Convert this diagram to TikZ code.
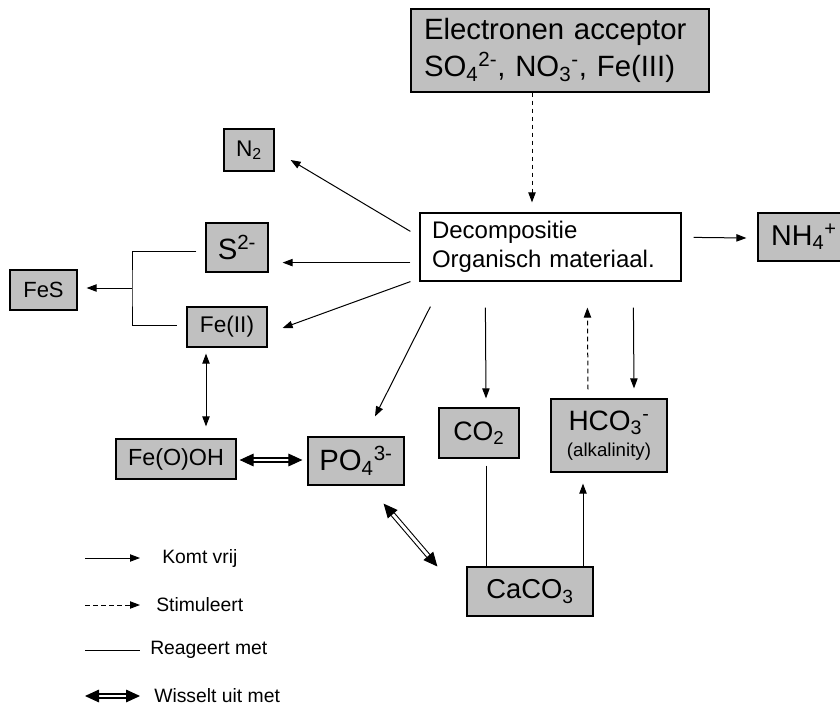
\documentclass[tikz,border=0pt]{standalone}
\usepackage{fontspec}
\setmainfont{Liberation Sans}
\usetikzlibrary{arrows.meta,calc}
\definecolor{boxgray}{HTML}{C0C0C0}
\newcommand{\dn}[1]{\textsubscript{#1}}
\newcommand{\up}[1]{\textsuperscript{#1}}
\tikzset{
  gbox/.style={draw, line width=0.9pt, fill=boxgray, inner sep=0pt, align=center},
  wbox/.style={draw, line width=0.9pt, fill=white, inner sep=0pt},
  rel/.style={line width=0.75pt, -{Triangle[length=7.5pt,width=5.5pt]}},
  stim/.style={rel, dash pattern=on 3.5pt off 2.5pt},
  react/.style={line width=0.75pt},
  both/.style={line width=0.75pt, {Triangle[length=7.5pt,width=5.5pt]}-{Triangle[length=7.5pt,width=5.5pt]}},
  xch/.style={double, line width=0.8pt, double distance=2.2pt, {Triangle[length=10.5pt,width=9.5pt]}-{Triangle[length=10.5pt,width=9.5pt]}},
  legtext/.style={anchor=west, inner sep=0pt, font=\fontsize{14.5}{17}\selectfont},
}
\begin{document}
\begin{tikzpicture}[x=0.75pt, y=-0.75pt]
\useasboundingbox (0,0) rectangle (840,707);

% boxes
\node[gbox, align=left, text width=204pt, inner xsep=9.75pt, minimum height=62.25pt,
      font=\fontsize{22}{27.5}\selectfont] (acc) at (560,50.5)
  {Electronen acceptor\\SO\dn{4}\up{2-}, NO\dn{3}\up{-}, Fe(III)};
\node[wbox, align=left, text width=177.75pt, inner xsep=9pt, minimum height=51pt,
      font=\fontsize{18}{21.5}\selectfont] (dec) at (550.5,247)
  {Decompositie\\Organisch materiaal.};
\node[gbox, minimum width=37.5pt, minimum height=31.5pt, font=\fontsize{17}{19}\selectfont] (n2) at (249,150) {N\dn{2}};
\node[gbox, minimum width=46.5pt, minimum height=36.75pt, font=\fontsize{22}{24}\selectfont] (s2) at (237,247.5) {S\up{2-}};
\node[gbox, minimum width=50.25pt, minimum height=30pt, font=\fontsize{16.5}{18}\selectfont] (fes) at (43.5,290) {FeS};
\node[gbox, minimum width=60pt, minimum height=30pt, font=\fontsize{17}{19}\selectfont] (fe2) at (227,327) {Fe(II)};
\node[gbox, minimum width=90pt, minimum height=30pt, font=\fontsize{17.5}{19}\selectfont] (feooh) at (176,459) {Fe(O)OH};
\node[gbox, minimum width=72pt, minimum height=36pt, font=\fontsize{22}{24}\selectfont] (po4) at (356,461) {PO\dn{4}\up{3-}};
\node[gbox, minimum width=60pt, minimum height=37.5pt, font=\fontsize{20}{22}\selectfont] (co2) at (479,433) {CO\dn{2}};
\node[gbox, minimum width=87pt, minimum height=54.75pt, font=\fontsize{14}{19}\selectfont] (hco3) at (609,435.5)
  {{\fontsize{21}{24}\selectfont HCO\dn{3}\up{-}}\\(alkalinity)};
\node[gbox, minimum width=94.5pt, minimum height=36.75pt, font=\fontsize{20.5}{22}\selectfont] (caco3) at (530,591.5) {CaCO\dn{3}};
\node[gbox, minimum width=69pt, minimum height=36pt, font=\fontsize{21.5}{24}\selectfont] (nh4) at (804,237) {NH\dn{4}\up{+}};

% connectors
\draw[stim] ($(acc.south)+(-28,0)$) -- ($(dec.north)+(-18.5,-10)$);
\draw[rel] ($(dec.north west)+(-9,19)$) -- ($(n2.east)+(16,10)$);
\draw[rel] ($(dec.south west)+(-9,-19)$) -- ($(s2.south east)+(14,-10)$);
\draw[rel] ($(dec.south west)+(-9,0)$) -- ($(fe2.east)+(15,1)$);
\draw[rel] ($(dec.north east)+(12,25)$) -- ($(nh4.west)+(-11,1)$);

\coordinate (br) at (132,288);
\draw[react] ($(s2.west)+(-9,3.5)$) -| (br) |- ($(fe2.west)+(-9,-2)$);
\draw[rel] (br) -- ($(fes.east)+(9,-2)$);

\draw[both] ($(fe2.south)+(-21,6)$) -- ($(feooh.north)+(30,-12)$);
\draw[xch] ($(feooh.east)+(3,1)$) -- ($(po4.west)+(-5,-1)$);
\draw[rel] ($(dec.south west)+(11,25)$) -- ($(po4.north)+(19,-20)$);
\draw[xch] ($(po4.south east)+(-21,18)$) -- ($(caco3.west)+(-29,-25)$);

\draw[rel] ($(dec.south west)+(66,26)$) -- ($(co2.north)+(7,-9)$);
\draw[react] ($(co2.south)+(7,7)$) -- ($(caco3.north)+(-44,0)$);
\draw[rel] ($(caco3.north)+(53,0)$) -- ($(hco3.south)+(-26,11)$);
\draw[stim] ($(hco3.north)+(-21,-9)$) -- ($(dec.south west)+(168,26)$);
\draw[rel] ($(dec.south west)+(214,26)$) -- ($(hco3.north)+(25,-10)$);

% legend
\coordinate (l1a) at (85,558); \coordinate (l1b) at (140,558);
\coordinate (l2a) at (85,605); \coordinate (l2b) at (140,605);
\coordinate (l3a) at (85,650); \coordinate (l3b) at (140,650);
\coordinate (l4a) at (85,696); \coordinate (l4b) at (140,696);
\draw[rel] (l1a) -- (l1b);
\draw[stim] (l2a) -- (l2b);
\draw[react] (l3a) -- (l3b);
\draw[xch] (l4a) -- (l4b);
\node[legtext] (t1) at (162,558) {Komt vrij};
\node[legtext] (t2) at (156,605) {Stimuleert};
\node[legtext] (t3) at (150,650) {Reageert met};
\node[legtext] (t4) at (154,696) {Wisselt uit met};
\end{tikzpicture}
\end{document}
